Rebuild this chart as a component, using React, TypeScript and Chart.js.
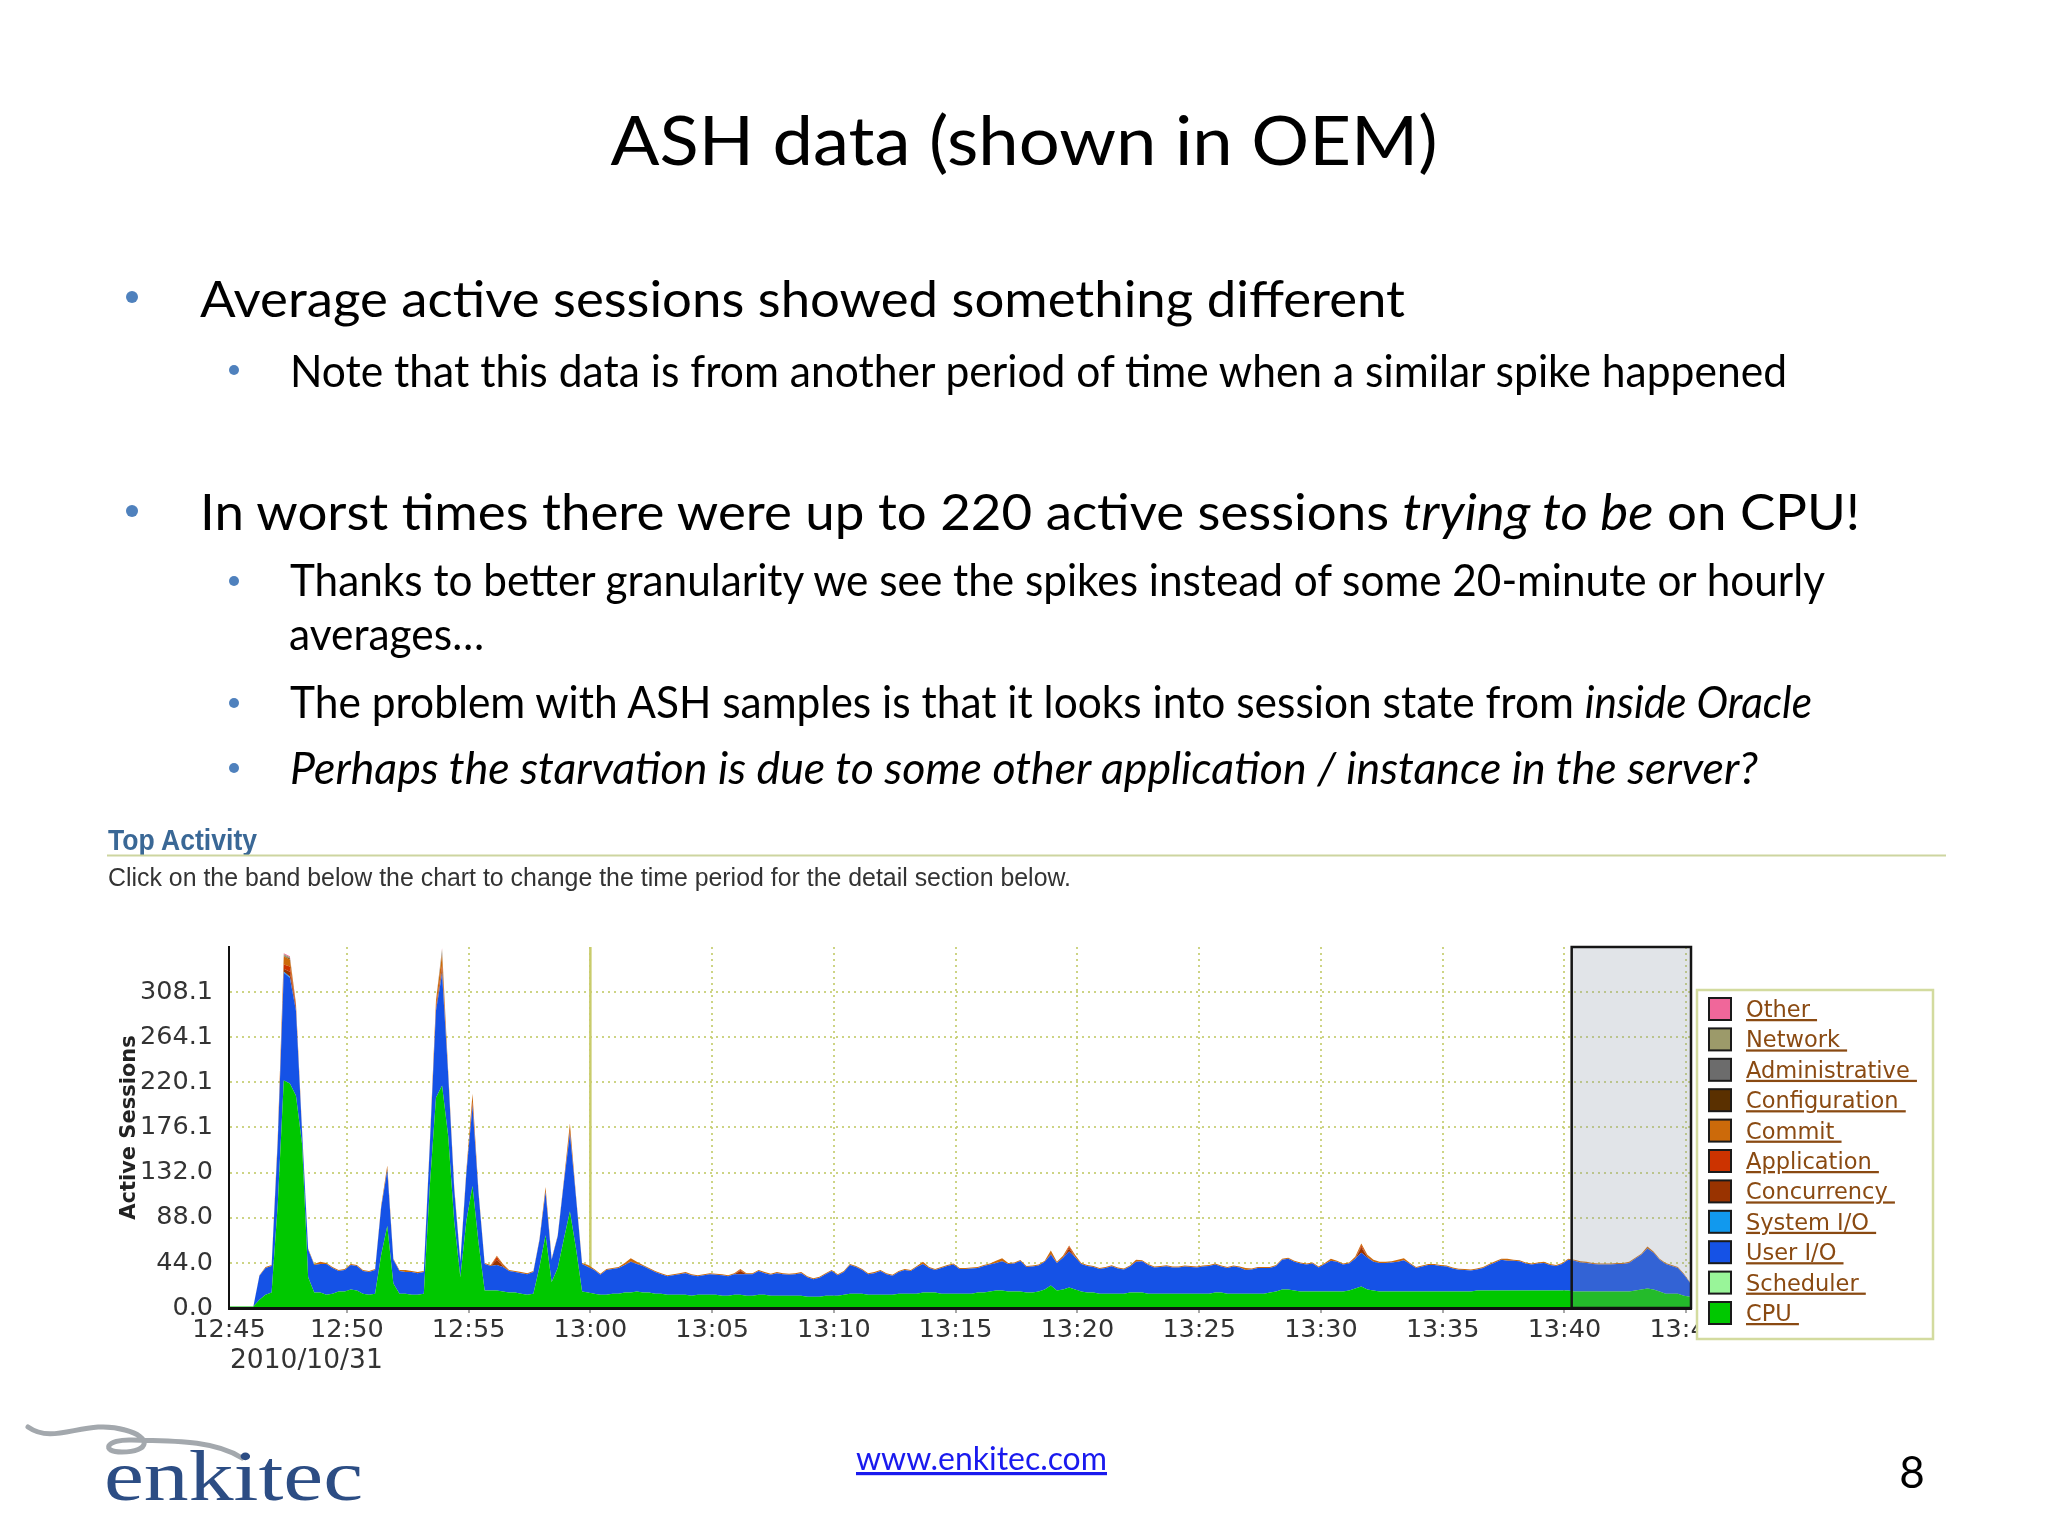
import React, { useEffect, useRef } from "react";
import { Chart, registerables } from "chart.js";

Chart.register(...registerables);

// ---------------- data ----------------
const SAMPLE_START_MIN = 0.16; // first OEM sample, minutes after 12:45
const SAMPLE_STEP_MIN = 0.25; // one OEM sample every 15 seconds
const X_MIN = 0.16;
const X_MAX = 60.2;
const X_TICK_MINUTES = [0.16, 5, 10, 15, 20, 25, 30, 35, 40, 45, 50, 55, 60];
const X_TICK_LABELS = ["12:45", "12:50", "12:55", "13:00", "13:05", "13:10", "13:15", "13:20", "13:25", "13:30", "13:35", "13:40", "13:45"];
const DATE_LABEL = "2010/10/31";
const Y_TICK_LABELS = ["0.0", "44.0", "88.0", "132.0", "176.1", "220.1", "264.1", "308.1"];
const Y_MAX = 352.1;
const MARK_MINUTE = 15; // 13:00 solid marker line
const SELECTION_START_MIN = 55.3;
const SELECTION_END_MIN = 60.2;

const LEGEND_NAMES = ["Other", "Network", "Administrative", "Configuration", "Commit", "Application", "Concurrency", "System I/O", "User I/O", "Scheduler", "CPU"];
const LEGEND_COLORS = ["#f0679a", "#9c9a6a", "#6c6c6c", "#5a3000", "#cc6a0a", "#cc3300", "#993300", "#1199ee", "#1552e6", "#99f599", "#00c800"];
const STACK_ORDER = ["CPU", "Scheduler", "User I/O", "System I/O", "Concurrency", "Application", "Commit", "Configuration", "Administrative", "Network", "Other"];

const CPU = [
  1.5, 1.5, 1.5, 1.5, 1.5,
  8, 13, 15, 100, 222, 219, 207, 160, 30, 15,
  15, 13, 14, 16, 16, 18, 17, 14, 13, 14,
  52, 80, 24, 14, 14, 13, 13, 14, 120, 205,
  217, 168, 84, 30, 85, 119, 63, 17, 17, 17,
  16, 15, 15, 14, 13, 14, 40, 71, 25, 39,
  67, 94, 58, 16, 15, 14, 13, 13, 14, 14,
  15, 15, 16, 15, 15, 14, 14, 13, 13, 13,
  13, 12, 13, 13, 13, 13, 12, 12, 13, 13,
  12, 12, 13, 13, 12, 12, 12, 12, 12, 12,
  11, 11, 11, 12, 12, 12, 13, 14, 14, 14,
  13, 13, 13, 13, 13, 14, 14, 14, 14, 15,
  15, 15, 14, 14, 14, 14, 14, 14, 15, 15,
  16, 17, 17, 16, 16, 16, 15, 15, 16, 18,
  22, 17, 18, 20, 18, 16, 15, 15, 14, 14,
  14, 14, 14, 15, 15, 15, 14, 14, 14, 14,
  14, 14, 14, 14, 14, 14, 14, 15, 15, 14,
  14, 14, 14, 14, 14, 14, 15, 16, 18, 18,
  17, 16, 16, 16, 16, 16, 16, 16, 16, 17,
  19, 21, 18, 17, 16, 16, 16, 16, 16, 16,
  16, 16, 16, 16, 16, 16, 16, 16, 16, 16,
  17, 17, 17, 17, 17, 17, 17, 17, 17, 17,
  17, 17, 17, 17, 17, 17, 16, 16, 16, 16,
  16, 16, 16, 16, 16, 16, 17, 18, 19, 18,
  16, 14, 14, 14, 12, 11,
];

const USER_IO = [
  0, 0, 0, 0, 0,
  23.5, 26, 26, 60, 105, 103, 83, 12, 27, 27,
  28, 30, 25, 20, 21, 24, 24, 22, 22, 23,
  46, 54, 23, 22, 21, 22, 21, 21, 40, 85,
  109, 60, 31, 15, 47, 78, 48, 26, 24, 25,
  24, 21, 20, 20, 20, 21, 26, 42, 22, 31,
  55, 76, 50, 27, 25, 23, 19.5, 24, 24, 25,
  27, 30, 27, 26, 23, 21, 19, 18, 19, 20,
  21, 20, 18, 19, 20, 19.5, 20, 19, 20, 20,
  21, 21, 23, 21, 20.5, 22, 21, 20.5, 21, 22,
  19, 17, 18.5, 21, 24, 20, 22, 28, 26, 23,
  20, 21, 23, 20, 18.5, 21, 23, 22, 26, 28,
  24, 22, 25, 27, 28.5, 24, 24, 24.5, 24, 26,
  26.5, 27, 28.5, 27, 27.5, 29.8, 25, 25.5, 25.5, 27,
  30, 27, 31, 35, 31.6, 27, 26, 25, 24, 25,
  26.8, 24.5, 23.5, 25.5, 30, 30.5, 28, 25.5, 26, 26.8,
  25.5, 25.5, 26.5, 26, 25.5, 26.5, 27, 27.5, 25.5, 25,
  26.5, 25.5, 23, 23.5, 25, 25, 24, 25, 29, 30,
  28, 27.5, 26.5, 27.5, 23.5, 27, 30, 29, 26.5, 26.5,
  29, 33, 31, 28, 28, 28, 28.5, 29, 30.5, 27,
  23, 24.5, 26, 26, 25, 24.5, 22.5, 21.3, 21, 20.5,
  20.5, 22, 25, 27.5, 30, 29, 29, 28.5, 26.5, 25.5,
  26.5, 27, 25, 24, 26, 30, 30, 28.5, 28, 27,
  26.5, 26.5, 26.5, 26.8, 27, 28, 31, 34, 39, 36,
  31, 29, 27, 25, 20.5, 13.5,
];

const COMMIT = [
  0, 0, 0, 0, 0,
  0.5, 1, 1, 3, 8, 7, 2, 1, 1, 1,
  2, 1, 1, 1, 1, 1, 1, 1, 1, 1,
  2, 3, 1, 1, 2, 1, 1, 1, 3, 6,
  11, 3, 2, 1, 3, 8, 2, 1, 1, 1,
  2, 1, 1, 1, 1, 1, 1, 4, 1, 1,
  2, 7, 2, 1, 2, 1, 1, 1, 1, 1,
  2, 3, 2, 1, 1, 1, 1, 1, 1, 1,
  1, 1, 1, 1, 1, 1, 1, 1, 1, 1,
  1, 1, 1, 1, 1, 1, 1, 1, 1, 1,
  1, 1, 1, 1, 1, 1, 1, 1, 1, 1,
  1, 1, 1, 1, 1, 1, 1, 1, 1, 2,
  1, 1, 1, 1, 1, 1, 1, 1, 1, 1,
  1, 2, 3, 1, 1, 1, 1, 1, 1, 1,
  3, 1, 2, 1, 2, 1, 1, 1, 1, 1,
  1, 1, 1, 1, 2, 1, 1, 1, 1, 1,
  1, 1, 1, 1, 1, 1, 1, 1, 1, 1,
  1, 1, 2, 1, 1, 1, 1, 1, 1, 1,
  1, 1, 1, 1, 1, 1, 2, 1, 1, 1,
  2, 2, 2, 2, 1, 1, 1, 2, 2, 1,
  1, 1, 1, 1, 1, 1, 1, 1, 1, 1,
  1, 1, 1, 1, 1, 2, 1, 1, 1, 1,
  1, 1, 1, 1, 1, 1, 1, 1, 1, 1,
  1, 1, 1, 1, 1, 1, 1, 1, 2, 1,
  1, 1, 1, 1, 1, 0.5,
];

// sparse classes: [sample index, active sessions]
const SCHEDULER_PTS: number[][] = [];
const SYSTEM_IO_PTS = [[9, 1], [10, 1], [35, 1]];
const CONCURRENCY_PTS = [[8, 2], [9, 3], [10, 5], [11, 3], [12, 1], [26, 2], [34, 2], [35, 4], [36, 1], [37, 1], [40, 2], [44, 5], [45, 1], [52, 1], [56, 2], [66, 0.5], [84, 3], [135, 1], [138, 3], [186, 5], [187, 1]];
const APPLICATION_PTS = [[9, 4], [10, 5], [11, 2], [34, 2], [35, 3], [40, 2], [44, 3], [56, 1], [84, 1], [138, 2], [186, 2]];
const CONFIGURATION_PTS = [[10, 1]];
const ADMINISTRATIVE_PTS = [[9, 1], [35, 2]];
const NETWORK_PTS = [[9, 1], [10, 1], [35, 3]];
const OTHER_PTS = [[9, 1], [10, 1], [35, 1]];

// ---------------- helpers ----------------
function dense(points: number[][]): number[] {
  const arr = CPU.map(() => 0);
  points.forEach(([i, v]) => { arr[i] = v; });
  return arr;
}

const SERIES_DATA: Record<string, number[]> = {
  "CPU": CPU,
  "Scheduler": dense(SCHEDULER_PTS),
  "User I/O": USER_IO,
  "System I/O": dense(SYSTEM_IO_PTS),
  "Concurrency": dense(CONCURRENCY_PTS),
  "Application": dense(APPLICATION_PTS),
  "Commit": COMMIT,
  "Configuration": dense(CONFIGURATION_PTS),
  "Administrative": dense(ADMINISTRATIVE_PTS),
  "Network": dense(NETWORK_PTS),
  "Other": dense(OTHER_PTS),
};

const COLOR_OF: Record<string, string> = {};
LEGEND_NAMES.forEach((n, i) => { COLOR_OF[n] = LEGEND_COLORS[i]; });

const GRID_COLOR = "rgba(196,204,110,0.85)";
const AXIS_FONT = "'DejaVu Sans', sans-serif";

const oemPlugin = {
  id: "oemExtras",
  beforeDatasetsDraw(chart: any) {
    const { ctx, chartArea, scales } = chart;
    const px = scales.x.getPixelForValue(MARK_MINUTE);
    ctx.save();
    ctx.strokeStyle = "#c9cc6c";
    ctx.lineWidth = 2.5;
    ctx.beginPath();
    ctx.moveTo(px, chartArea.top);
    ctx.lineTo(px, chartArea.bottom);
    ctx.stroke();
    ctx.restore();
  },
  afterDatasetsDraw(chart: any) {
    const { ctx, chartArea, scales } = chart;
    const x1 = scales.x.getPixelForValue(SELECTION_START_MIN);
    const x2 = scales.x.getPixelForValue(SELECTION_END_MIN);
    ctx.save();
    ctx.fillStyle = "rgba(140,150,165,0.26)";
    ctx.fillRect(x1, chartArea.top, x2 - x1, chartArea.bottom - chartArea.top);
    ctx.strokeStyle = "#151515";
    ctx.lineWidth = 2.5;
    ctx.strokeRect(x1, chartArea.top, x2 - x1, chartArea.bottom - chartArea.top);
    ctx.restore();
  },
  afterDraw(chart: any) {
    const { ctx, chartArea } = chart;
    ctx.save();
    ctx.font = "26.5px " + AXIS_FONT;
    ctx.fillStyle = "#333";
    ctx.textAlign = "left";
    ctx.textBaseline = "alphabetic";
    ctx.fillText(DATE_LABEL, chartArea.left + 1, chartArea.bottom + 60);
    ctx.restore();
  },
};

function zeroPadding(scale: any) {
  scale.paddingTop = 0;
  scale.paddingBottom = 0;
  scale.paddingLeft = 0;
  scale.paddingRight = 0;
}

function ActivityChart() {
  const ref = useRef<HTMLCanvasElement>(null);
  useEffect(() => {
    const canvas = ref.current;
    if (!canvas) return;
    const xs = CPU.map((_, i) => SAMPLE_START_MIN + i * SAMPLE_STEP_MIN);
    const datasets = STACK_ORDER.map((name, k) => ({
      label: name,
      data: SERIES_DATA[name].map((v, i) => ({ x: xs[i], y: v })),
      backgroundColor: COLOR_OF[name],
      borderColor: "rgba(0,0,0,0)",
      borderWidth: 0,
      pointRadius: 0,
      pointHoverRadius: 0,
      fill: k === 0 ? "origin" : "-1",
      tension: 0,
    }));
    const chart = new Chart(canvas, {
      type: "line",
      data: { datasets },
      plugins: [oemPlugin],
      options: {
        responsive: false,
        animation: false,
        events: [],
        layout: { padding: { top: 17, right: 49, left: 0, bottom: 0 } },
        plugins: { legend: { display: false }, tooltip: { enabled: false } },
        scales: {
          x: {
            type: "linear",
            min: X_MIN,
            max: X_MAX,
            afterBuildTicks: (scale: any) => { scale.ticks = X_TICK_MINUTES.map((v) => ({ value: v })); },
            afterFit: (scale: any) => { scale.height = 72; zeroPadding(scale); },
            ticks: {
              autoSkip: false,
              maxRotation: 0,
              minRotation: 0,
              padding: 2,
              color: "#333",
              font: { family: AXIS_FONT, size: 25.5 },
              callback: (_v: any, i: number) => X_TICK_LABELS[i] ?? "",
            },
            grid: {
              drawTicks: true,
              tickLength: 5,
              tickWidth: 2,
              tickColor: (ctx: any) => (ctx.tick && ctx.tick.value === X_TICK_MINUTES[0] ? "rgba(0,0,0,0)" : "#a8a8a8"),
              lineWidth: 2,
              color: (ctx: any) => (ctx.tick && ctx.tick.value === X_TICK_MINUTES[0] ? "rgba(0,0,0,0)" : GRID_COLOR),
            },
            border: { display: true, color: "#111", width: 3, dash: [2, 4], z: 1 },
          },
          y: {
            stacked: true,
            min: 0,
            max: Y_MAX,
            afterBuildTicks: (scale: any) => { scale.ticks = Y_TICK_LABELS.map((l) => ({ value: parseFloat(l) })); },
            afterFit: (scale: any) => { scale.width = 129; zeroPadding(scale); },
            title: {
              display: true,
              text: "Active Sessions",
              color: "#222",
              font: { family: AXIS_FONT, size: 21, weight: "bold" },
              padding: { top: 17, bottom: 0 },
            },
            ticks: {
              autoSkip: false,
              padding: 16,
              color: "#333",
              font: { family: AXIS_FONT, size: 25.5 },
              callback: (_v: any, i: number) => Y_TICK_LABELS[i] ?? "",
            },
            grid: {
              drawTicks: false,
              lineWidth: 2,
              color: (ctx: any) => (ctx.tick && ctx.tick.value === 0 ? "rgba(0,0,0,0)" : GRID_COLOR),
            },
            border: { display: true, color: "#111", width: 2, dash: [2, 4], z: 1 },
          },
        },
      } as any,
    });
    return () => chart.destroy();
  }, []);
  return (
    <canvas
      ref={ref}
      width={1640}
      height={450}
      style={{ position: "absolute", left: 100, top: 930, width: 1640, height: 450 }}
    />
  );
}

const SLIDE_FONT = "Lato, 'Open Sans', sans-serif";
const BULLET_BLUE = "#4f81bd";

function Legend() {
  return (
    <g>
      <rect x={1697} y={990} width={236} height={349} fill="#ffffff" stroke="#d3db9f" strokeWidth={2.5} />
      {LEGEND_NAMES.map((name, k) => {
        const cy = 1009 + k * 30.4;
        return (
          <g key={name}>
            <rect x={1709} y={cy - 11} width={22} height={22} fill={COLOR_OF[name]} stroke="#1a1a1a" strokeWidth={2} />
            <text
              x={1746}
              y={cy + 8}
              fontFamily={AXIS_FONT}
              fontSize={22.5}
              fill="#8a4a12"
              style={{ textDecoration: "underline" }}
            >
              {name + "\u00a0"}
            </text>
          </g>
        );
      })}
    </g>
  );
}

function SlideText() {
  const fit = { lengthAdjust: "spacingAndGlyphs" as any };
  return (
    <svg
      width={2048}
      height={1536}
      style={{ position: "absolute", left: 0, top: 0, pointerEvents: "none" }}
    >
      <text x={1024} y={165} textAnchor="middle" fontFamily={SLIDE_FONT} fontSize={68} textLength={827} {...fit} fill="#000">
        ASH data (shown in OEM)
      </text>

      <circle cx={132} cy={297} r={6} fill={BULLET_BLUE} />
      <text x={200} y={317} fontFamily={SLIDE_FONT} fontSize={50} textLength={1205} {...fit} fill="#000">
        Average active sessions showed something different
      </text>
      <circle cx={234} cy={370} r={5} fill={BULLET_BLUE} />
      <text x={290} y={387} fontFamily={SLIDE_FONT} fontSize={44} textLength={1497} {...fit} fill="#000">
        Note that this data is from another period of time when a similar spike happened
      </text>

      <circle cx={132} cy={511} r={6} fill={BULLET_BLUE} />
      <text x={200} y={530} fontFamily={SLIDE_FONT} fontSize={50} textLength={1660} {...fit} fill="#000">
        {"In worst times there were up to 220 active sessions "}
        <tspan fontStyle="italic">trying to be</tspan>
        {" on CPU!"}
      </text>
      <circle cx={234} cy={581} r={5} fill={BULLET_BLUE} />
      <text x={290} y={596} fontFamily={SLIDE_FONT} fontSize={44} textLength={1535} {...fit} fill="#000">
        Thanks to better granularity we see the spikes instead of some 20-minute or hourly
      </text>
      <text x={289} y={650} fontFamily={SLIDE_FONT} fontSize={44} textLength={195} {...fit} fill="#000">
        averages…
      </text>
      <circle cx={234} cy={703} r={5} fill={BULLET_BLUE} />
      <text x={290} y={718} fontFamily={SLIDE_FONT} fontSize={44} textLength={1522} {...fit} fill="#000">
        {"The problem with ASH samples is that it looks into session state from "}
        <tspan fontStyle="italic">inside Oracle</tspan>
      </text>
      <circle cx={234} cy={768} r={5} fill={BULLET_BLUE} />
      <text x={290} y={784} fontFamily={SLIDE_FONT} fontSize={44} fontStyle="italic" textLength={1468} {...fit} fill="#000">
        Perhaps the starvation is due to some other application / instance in the server?
      </text>

      <text x={108} y={850} fontFamily="'Liberation Sans', Arial, sans-serif" fontWeight="bold" fontSize={30} textLength={149} {...fit} fill="#3a6896">
        Top Activity
      </text>
      <line x1={107} y1={855.5} x2={1946} y2={855.5} stroke="#cdd5a0" strokeWidth={2} />
      <text x={108} y={886} fontFamily="'Liberation Sans', Arial, sans-serif" fontSize={25} textLength={963} {...fit} fill="#333">
        Click on the band below the chart to change the time period for the detail section below.
      </text>

      <Legend />

      <path
        d="M28 1427 C 55 1446, 85 1418, 125 1430 C 152 1437, 150 1452, 122 1452 C 100 1452, 106 1439, 132 1440 C 172 1441, 214 1440, 242 1458"
        stroke="#a3a8ad"
        strokeWidth={5}
        fill="none"
        strokeLinecap="round"
      />
      <text x={104} y={1500} fontFamily="'Liberation Serif', serif" fontSize={72} textLength={259} {...fit} fill="#2c4d84">
        enkitec
      </text>
      <text x={856} y={1470} fontFamily={SLIDE_FONT} fontSize={32} textLength={251} {...fit} fill="#1a1aee" style={{ textDecoration: "underline" }}>
        www.enkitec.com
      </text>
      <text x={1912} y={1488} textAnchor="middle" fontFamily={SLIDE_FONT} fontSize={44} fill="#000">
        8
      </text>
    </svg>
  );
}

export default function App() {
  return (
    <div
      style={{
        position: "absolute",
        left: 0,
        top: 0,
        width: 2048,
        height: 1536,
        background: "#ffffff",
        overflow: "hidden",
      }}
    >
      <ActivityChart />
      <SlideText />
    </div>
  );
}
